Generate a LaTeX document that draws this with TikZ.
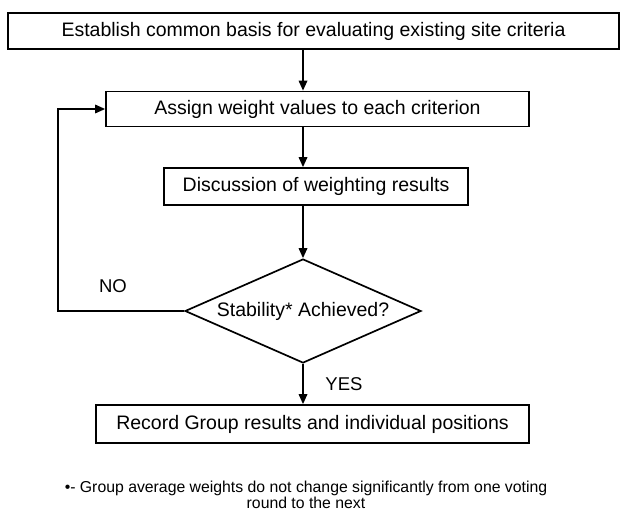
\documentclass[tikz,border=0pt]{standalone}
\usepackage{fontspec}
\setmainfont{Liberation Sans}
\usetikzlibrary{shapes.geometric,arrows.meta}
\tikzset{
  stepbox/.style={draw, line width=1.7pt, inner sep=0pt, font=\fontsize{19.5}{23}\selectfont},
  decision/.style={draw, diamond, line width=1.7pt, inner sep=0pt, aspect=2.27, font=\fontsize{19.5}{23}\selectfont},
  arr/.style={line width=1.7pt, -{Triangle[length=10pt,width=8.5pt]}},
  lbl/.style={font=\fontsize{18.5}{22}\selectfont}
}
\begin{document}
\begin{tikzpicture}[x=1pt,y=-1pt]
\useasboundingbox (0,0) rectangle (620,516);
\node[stepbox, minimum width=611pt, minimum height=36pt] (top) at (313.5,31) {Establish common basis for evaluating existing site criteria};
\node[stepbox, minimum width=423pt, minimum height=35pt] (assign) at (317.5,109) {Assign weight values to each criterion};
\node[stepbox, minimum width=304pt, minimum height=37pt] (disc) at (316,186.5) {Discussion of weighting results};
\node[decision, minimum width=236pt, minimum height=104pt] (dia) at (303,311) {\raisebox{-3pt}{Stability* Achieved?}};
\node[stepbox, minimum width=433pt, minimum height=38pt] (rec) at (312.5,424) {Record Group results and individual positions};
\coordinate (loopc) at (58,311);
\draw[arr] (top.south -| dia.north) -- (assign.north -| dia.north);
\draw[arr] (assign.south -| dia.north) -- (disc.north -| dia.north);
\draw[arr] (disc.south -| dia.north) -- (dia.north);
\draw[arr] (dia.south) -- (rec.north -| dia.south);
\draw[arr] (dia.west) -- (loopc) |- (assign.west);
\node[lbl] (no) at (113,286) {NO};
\node[lbl] (yes) at (344,384) {YES};
\node[align=center, font=\fontsize{15.8}{16.5}\selectfont] (note) at (306,495) {•- Group average weights do not change significantly from one voting\\round to the next};
\end{tikzpicture}
\end{document}
